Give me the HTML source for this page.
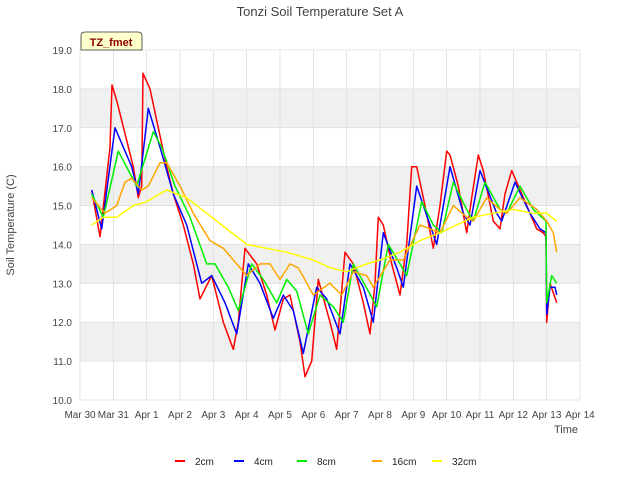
<!DOCTYPE html>
<html><head><meta charset="utf-8"><style>
body{margin:0;background:#fff;font-family:"Liberation Sans",sans-serif}
svg text{font-family:"Liberation Sans",sans-serif}
</style></head><body>
<svg width="640" height="480" id="c">
<rect width="640" height="480" fill="#fff"/>
<text x="320" y="16" text-anchor="middle" font-size="13" fill="#444">Tonzi Soil Temperature Set A</text>
<g id="bands"></g><g id="axes"></g><g id="series"></g>
<text x="14" y="225" transform="rotate(-90 14 225)" text-anchor="middle" font-size="11" fill="#444">Soil Temperature (C)</text>
<text x="566" y="433" text-anchor="middle" font-size="11" fill="#444">Time</text>
<g>
<path d="M81,50 L81,36 Q81,32 85,32 L138,32 Q142,32 142,36 L142,50 Z" fill="#ffffcc" stroke="#333" stroke-width="0.8"/>
<text x="111" y="46" text-anchor="middle" font-size="11" font-weight="bold" fill="#8b0000">TZ_fmet</text>
</g>
<g id="legend"></g>
</svg>
<script>
const yTicks=[10,11,12,13,14,15,16,17,18,19];
const xTickLabels=["Mar 30","Mar 31","Apr 1","Apr 2","Apr 3","Apr 4","Apr 5","Apr 6","Apr 7","Apr 8","Apr 9","Apr 10","Apr 11","Apr 12","Apr 13","Apr 14"];
const seriesNames=["2cm","4cm","8cm","16cm","32cm"];
const seriesColors=["#ff0000","#0000ff","#00ee00","#ffa500","#ffff00"];
const t2=[0.35,0.6,0.9,0.96,1.1,1.6,1.75,1.85,1.89,2.1,2.35,2.6,2.8,3.1,3.4,3.6,3.95,4.3,4.6,4.75,4.95,5.3,5.6,5.85,6.1,6.3,6.6,6.75,6.95,7.15,7.5,7.7,7.95,8.2,8.5,8.7,8.85,8.95,9.1,9.35,9.6,9.8,9.95,10.1,10.35,10.6,10.8,11.0,11.1,11.35,11.6,11.75,11.95,12.1,12.4,12.6,12.75,12.95,13.1,13.4,13.7,13.9,13.98,14.0,14.1,14.3];
const v2=[15.4,14.2,16.5,18.1,17.7,16.0,15.2,15.5,18.4,18.0,17.0,16.0,15.3,14.5,13.5,12.6,13.2,12.0,11.3,12.0,13.9,13.5,12.7,11.8,12.6,12.7,11.5,10.6,11.0,13.1,12.0,11.3,13.8,13.5,12.5,11.7,13.0,14.7,14.5,13.5,12.7,14.0,16.0,16.0,15.0,13.9,15.0,16.4,16.3,15.5,14.3,15.2,16.3,15.9,14.6,14.4,15.3,15.9,15.6,15.0,14.4,14.3,14.2,12.0,13.0,12.5];
const t4=[0.35,0.65,1.05,1.55,1.75,2.05,2.4,2.8,3.2,3.65,3.95,4.35,4.7,5.05,5.4,5.8,6.1,6.4,6.7,7.1,7.4,7.8,8.1,8.5,8.8,9.1,9.5,9.7,10.1,10.5,10.7,11.1,11.5,11.7,12.0,12.5,12.65,13.05,13.5,13.8,13.98,14.0,14.1,14.25,14.3];
const v4=[15.4,14.4,17.0,16.0,15.3,17.5,16.5,15.3,14.5,13.0,13.2,12.5,11.7,13.5,13.0,12.1,12.7,12.3,11.2,12.9,12.6,11.7,13.5,12.9,12.0,14.3,13.4,12.9,15.5,14.5,14.0,16.0,14.8,14.5,15.9,14.8,14.6,15.6,14.8,14.4,14.3,12.2,12.9,12.9,12.7];
const t8=[0.35,0.7,1.15,1.7,2.2,2.45,2.85,3.3,3.8,4.05,4.45,4.75,5.15,5.5,5.9,6.2,6.5,6.85,7.2,7.6,7.9,8.2,8.65,8.9,9.25,9.6,9.8,10.25,10.6,10.85,11.2,11.6,11.8,12.15,12.6,12.8,13.2,13.6,13.98,14.0,14.15,14.3];
const v8=[15.3,14.7,16.4,15.5,16.9,16.5,15.5,14.7,13.5,13.5,12.9,12.3,13.5,13.1,12.5,13.1,12.8,11.7,12.7,12.4,12.0,13.5,12.8,12.4,14.0,13.5,13.2,15.1,14.5,14.3,15.6,14.9,14.6,15.6,14.9,14.8,15.5,14.9,14.6,12.5,13.2,13.0];
const t16=[0.35,0.75,1.1,1.35,1.55,1.85,2.05,2.4,2.6,3.0,3.4,3.9,4.3,4.8,5.0,5.4,5.7,6.0,6.3,6.55,7.0,7.5,7.85,8.2,8.6,8.8,9.3,9.7,10.2,10.5,10.8,11.2,11.6,11.8,12.2,12.6,12.8,13.2,13.7,14.0,14.2,14.3];
const v16=[15.2,14.8,15.0,15.6,15.7,15.4,15.5,16.1,16.1,15.5,14.8,14.1,13.9,13.4,13.2,13.5,13.5,13.1,13.5,13.4,12.7,13.0,12.7,13.3,13.2,12.9,13.6,13.6,14.5,14.4,14.3,15.0,14.7,14.6,15.2,14.9,14.8,15.2,14.9,14.6,14.3,13.8];
const t32=[0.35,0.7,1.1,1.6,2.0,2.6,3.2,3.8,4.4,5.0,5.6,6.2,7.0,7.5,8.0,8.6,9.0,9.6,10.2,10.8,11.3,11.8,12.4,13.0,13.6,14.0,14.3];
const v32=[14.5,14.7,14.7,15.0,15.1,15.4,15.2,14.8,14.4,14.0,13.9,13.8,13.6,13.4,13.3,13.5,13.6,13.8,14.1,14.3,14.5,14.7,14.8,14.9,14.8,14.8,14.6];
const X0=80,X1=580,Y0=400,Y1=50;
const xs=t=>X0+(X1-X0)*t/15, ys=v=>Y0-(Y0-Y1)*(v-10)/9;
const NS="http://www.w3.org/2000/svg";
function mk(tag,attrs,parent){const e=document.createElementNS(NS,tag);for(const k in attrs)e.setAttribute(k,attrs[k]);parent.appendChild(e);return e;}
const bands=document.getElementById('bands'),axes=document.getElementById('axes'),ser=document.getElementById('series'),leg=document.getElementById('legend');
for(let i=0;i<yTicks.length-1;i++){if(yTicks[i]%2===1){const b=mk('rect',{x:X0,y:ys(yTicks[i]+1),width:X1-X0,height:ys(yTicks[i])-ys(yTicks[i]+1),fill:'#f0f0f0'},bands);

}}
yTicks.forEach(v=>{const l=mk('line',{x1:X0,x2:X1,y1:ys(v),y2:ys(v),stroke:'#dddddd','stroke-width':0.8},axes);


const t=mk('text',{x:X0-8,y:ys(v)+4,'text-anchor':'end','font-size':10,fill:'#444'},axes);t.textContent=v.toFixed(1);

});
xTickLabels.forEach((s,i)=>{const l=mk('line',{x1:xs(i),x2:xs(i),y1:Y1,y2:Y0,stroke:'#dddddd','stroke-width':0.8},axes);


const t=mk('text',{x:xs(i),y:Y0+18,'text-anchor':'middle','font-size':10,fill:'#444'},axes);t.textContent=s;

});
const data=[[t2,v2],[t4,v4],[t8,v8],[t16,v16],[t32,v32]];
data.forEach((d,i)=>{const p=mk('polyline',{points:d[0].map((t,j)=>xs(t).toFixed(1)+','+ys(d[1][j]).toFixed(1)).join(' '),fill:'none',stroke:seriesColors[i],'stroke-width':1.5,'stroke-linejoin':'round'},ser);

});
const lx=[175,234,297,372,432];
seriesNames.forEach((n,i)=>{const g=mk('g',{},leg);


mk('line',{x1:lx[i],x2:lx[i]+10,y1:461,y2:461,stroke:seriesColors[i],'stroke-width':2},g);
const t=mk('text',{x:lx[i]+20,y:465,'font-size':10,fill:'#222'},g);t.textContent=n;});
</script>
</body></html>
